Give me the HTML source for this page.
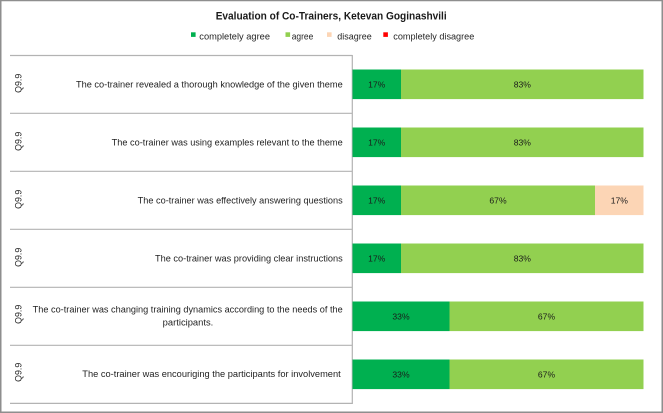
<!DOCTYPE html>
<html>
<head>
<meta charset="utf-8">
<style>
  html, body { margin: 0; padding: 0; background: #fff; }
  svg { display: block; }
  text { font-family: "Liberation Sans", Arial, sans-serif; }
</style>
</head>
<body>
<svg width="663" height="413" viewBox="0 0 663 413" xmlns="http://www.w3.org/2000/svg">
  <rect x="0" y="0" width="663" height="413" fill="#ffffff"/>
  <rect x="0.75" y="0.5" width="661.5" height="411.75" fill="none" stroke="#8e8e8e" stroke-width="1.5"/>

  <!-- Title -->
  <text x="215.7" y="19.6" font-size="10.8" font-weight="bold" fill="#1a1a1a" textLength="231" lengthAdjust="spacingAndGlyphs">Evaluation of Co-Trainers, Ketevan Goginashvili</text>

  <!-- Legend -->
  <rect x="191" y="32.3" width="4.6" height="4.6" fill="#00B050"/>
  <text x="199.3" y="39.4" font-size="8.8" fill="#262626" textLength="70.7" lengthAdjust="spacingAndGlyphs">completely agree</text>
  <rect x="285.5" y="32.3" width="4.6" height="4.6" fill="#92D050"/>
  <text x="291.7" y="39.4" font-size="8.8" fill="#262626" textLength="21.6" lengthAdjust="spacingAndGlyphs">agree</text>
  <rect x="327" y="32.3" width="4.6" height="4.6" fill="#FCD5B5"/>
  <text x="337.3" y="39.4" font-size="8.8" fill="#262626" textLength="34.4" lengthAdjust="spacingAndGlyphs">disagree</text>
  <rect x="383.3" y="32.3" width="4.6" height="4.6" fill="#FF0000"/>
  <text x="393.3" y="39.4" font-size="8.8" fill="#262626" textLength="81" lengthAdjust="spacingAndGlyphs">completely disagree</text>

  <!-- Table lines -->
  <g stroke="#b3b3b3" stroke-width="1.2">
    <line x1="10" y1="55.5" x2="352.3" y2="55.5"/>
    <line x1="10" y1="113.3" x2="352.3" y2="113.3"/>
    <line x1="10" y1="171.3" x2="352.3" y2="171.3"/>
    <line x1="10" y1="229.3" x2="352.3" y2="229.3"/>
    <line x1="10" y1="287.3" x2="352.3" y2="287.3"/>
    <line x1="10" y1="345.3" x2="352.3" y2="345.3"/>
    <line x1="10" y1="403.4" x2="352.3" y2="403.4"/>
    <line x1="352.3" y1="55" x2="352.3" y2="404"/>
  </g>

  <!-- Q9.9 labels -->
  <g font-size="8.8" fill="#262626" text-anchor="middle">
    <text x="21.6" y="83.3" transform="rotate(-90 21.6 83.3)">Q9.9</text>
    <text x="21.6" y="141.3" transform="rotate(-90 21.6 141.3)">Q9.9</text>
    <text x="21.6" y="199.3" transform="rotate(-90 21.6 199.3)">Q9.9</text>
    <text x="21.6" y="257.3" transform="rotate(-90 21.6 257.3)">Q9.9</text>
    <text x="21.6" y="314.3" transform="rotate(-90 21.6 314.3)">Q9.9</text>
    <text x="21.6" y="372.3" transform="rotate(-90 21.6 372.3)">Q9.9</text>
  </g>

  <!-- Row labels -->
  <g font-size="9" fill="#1f1f1f">
    <text x="76" y="87.6" textLength="266.7" lengthAdjust="spacingAndGlyphs">The co-trainer revealed a thorough knowledge of the given theme</text>
    <text x="111.7" y="145.6" textLength="231" lengthAdjust="spacingAndGlyphs">The co-trainer was using examples relevant to the theme</text>
    <text x="137.7" y="203.6" textLength="205" lengthAdjust="spacingAndGlyphs">The co-trainer was effectively answering questions</text>
    <text x="155" y="261.6" textLength="187.7" lengthAdjust="spacingAndGlyphs">The co-trainer was providing clear instructions</text>
    <text x="32.7" y="312.6" textLength="310" lengthAdjust="spacingAndGlyphs">The co-trainer was changing training dynamics according to the needs of the</text>
    <text x="162.7" y="325.4" textLength="50.6" lengthAdjust="spacingAndGlyphs">participants.</text>
    <text x="82.3" y="377" textLength="258.4" lengthAdjust="spacingAndGlyphs">The co-trainer was encouriging the participants for involvement</text>
  </g>

  <!-- Bars -->
  <g>
    <!-- Row 1 -->
    <rect x="352.5" y="69.5" width="48.5" height="29.6" fill="#00B050"/>
    <rect x="401" y="69.5" width="242.5" height="29.6" fill="#92D050"/>
    <!-- Row 2 -->
    <rect x="352.5" y="127.5" width="48.5" height="29.6" fill="#00B050"/>
    <rect x="401" y="127.5" width="242.5" height="29.6" fill="#92D050"/>
    <!-- Row 3 -->
    <rect x="352.5" y="185.5" width="48.5" height="29.6" fill="#00B050"/>
    <rect x="401" y="185.5" width="194" height="29.6" fill="#92D050"/>
    <rect x="595" y="185.5" width="48.5" height="29.6" fill="#FCD5B5"/>
    <!-- Row 4 -->
    <rect x="352.5" y="243.5" width="48.5" height="29.6" fill="#00B050"/>
    <rect x="401" y="243.5" width="242.5" height="29.6" fill="#92D050"/>
    <!-- Row 5 -->
    <rect x="352.5" y="301.5" width="97" height="29.6" fill="#00B050"/>
    <rect x="449.5" y="301.5" width="194" height="29.6" fill="#92D050"/>
    <!-- Row 6 -->
    <rect x="352.5" y="359.5" width="97" height="29.6" fill="#00B050"/>
    <rect x="449.5" y="359.5" width="194" height="29.6" fill="#92D050"/>
  </g>

  <!-- Bar value labels -->
  <g font-size="8.6" fill="#1a1a1a" text-anchor="middle">
    <text x="376.7" y="87.6">17%</text>
    <text x="522.3" y="87.6">83%</text>
    <text x="376.7" y="145.6">17%</text>
    <text x="522.3" y="145.6">83%</text>
    <text x="376.7" y="203.6">17%</text>
    <text x="498" y="203.6">67%</text>
    <text x="619.3" y="203.6">17%</text>
    <text x="376.7" y="261.6">17%</text>
    <text x="522.3" y="261.6">83%</text>
    <text x="401" y="319.6">33%</text>
    <text x="546.5" y="319.6">67%</text>
    <text x="401" y="377.6">33%</text>
    <text x="546.5" y="377.6">67%</text>
  </g>
</svg>
</body>
</html>
